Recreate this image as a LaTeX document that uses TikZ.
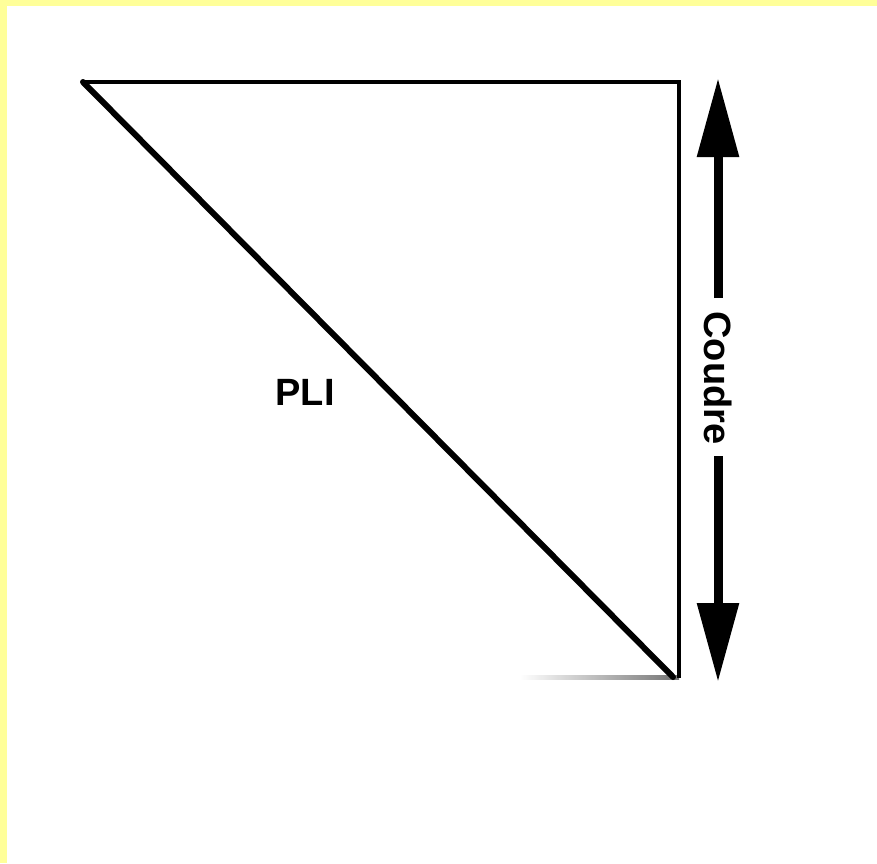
\documentclass[tikz,border=0pt]{standalone}
\usepackage{fontspec}
\setmainfont{Liberation Sans}
\usetikzlibrary{arrows.meta}
\definecolor{bordery}{HTML}{FFFF99}
\tikzset{
  edge/.style={line width=3.5pt, black},
  fold/.style={line width=6pt, black, line cap=round},
  lbl/.style={font=\fontsize{38}{42}\selectfont\bfseries, inner sep=2pt},
  dimarrow/.style={line width=9pt, -{Triangle[length=79pt, width=40pt]}}
}
\begin{document}
\begin{tikzpicture}[x=1pt, y=-1pt]
  \useasboundingbox (0,0) rectangle (877,863);
  \fill[white] (0,0) rectangle (877,863);
  \fill[bordery] (0,0) rectangle (877,6);
  \fill[bordery] (0,0) rectangle (7,863);
  % triangle corners
  \coordinate (tl) at (83,82);
  \coordinate (tr) at (679,82);
  \coordinate (br) at (679,678);
  \coordinate (bd) at (673,677);
  \shade[left color=white, right color=black!55] (520,675.5) rectangle (679,679);
  \draw[edge] (tl) -- (tr) -- (br);
  \draw[fold] (tl) -- (bd);
  \node[lbl] (pli) at (305,392) {PLI};
  % dimension arrow
  \node[lbl, rotate=-90] (coudre) at (718,378) {Coudre};
  \coordinate (gtop) at (718,298);
  \coordinate (gbot) at (718,456);
  \coordinate (atop) at (718,78);
  \coordinate (abot) at (718,682);
  \draw[dimarrow] (gtop) -- (atop);
  \draw[dimarrow] (gbot) -- (abot);
\end{tikzpicture}
\end{document}
